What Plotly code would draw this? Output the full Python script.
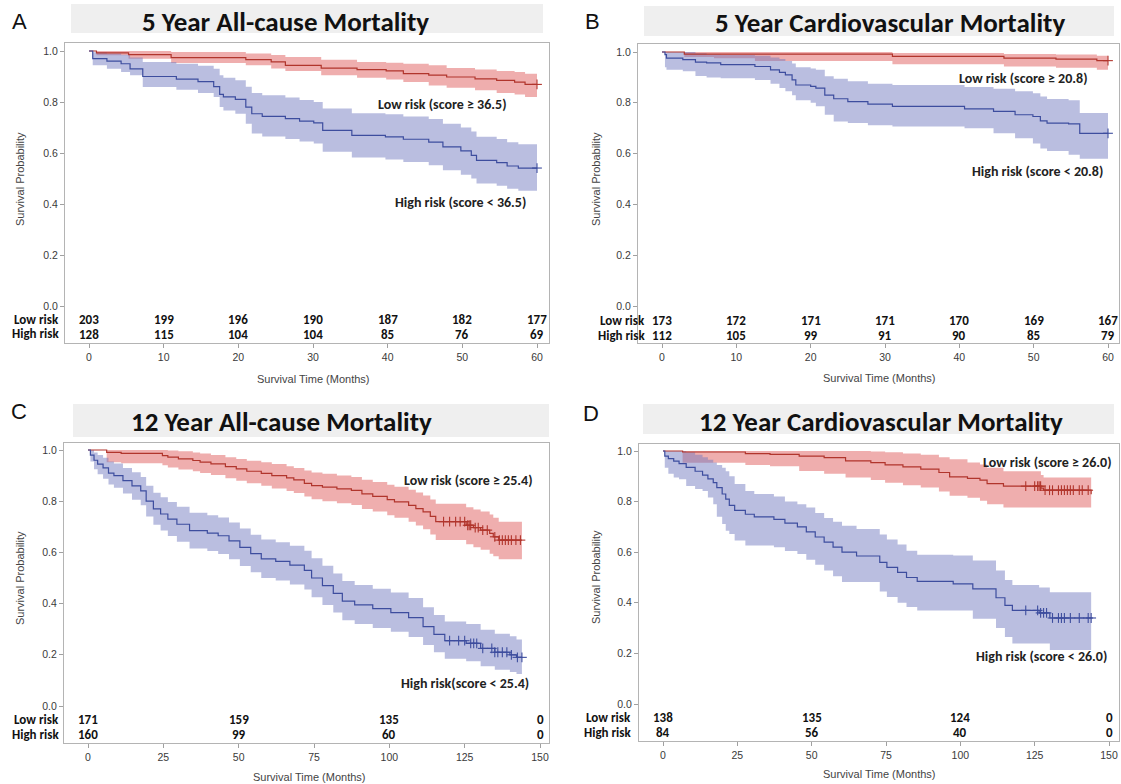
import plotly.graph_objects as go

W, H = 1121, 784

# ---------------- DATA ----------------
# Panel A: 5 Year All-cause Mortality
A_low_t  = [0, 1, 5.3, 11, 21, 24.4, 26.3, 31.1, 35.9, 39.8, 42.1, 45.5, 47.9, 51.7, 54.6, 57, 58.4]
A_low_s  = [1.0, 0.993, 0.986, 0.974, 0.966, 0.957, 0.944, 0.933, 0.927, 0.922, 0.911, 0.905, 0.898, 0.891, 0.885, 0.878, 0.869]
A_low_lo = [1.0, 0.983, 0.97, 0.953, 0.944, 0.931, 0.922, 0.905, 0.895, 0.888, 0.878, 0.865, 0.856, 0.846, 0.835, 0.829, 0.82]
A_low_hi = [1.0, 1.0, 1.0, 0.996, 0.99, 0.984, 0.976, 0.966, 0.957, 0.954, 0.95, 0.944, 0.933, 0.927, 0.922, 0.918, 0.911]
A_low_cens = [60]
A_high_t  = [0, 0.5, 2.4, 4.3, 5.5, 7.2, 11.7, 14.6, 16.7, 17.5, 18, 19.6, 21, 21.8, 23.2, 26.3, 28.2, 30.1, 31.3, 35.2, 39.7, 42.1, 45.5, 47.4, 49.8, 51.2, 51.9, 54.6, 56, 57.5]
A_high_s  = [1.0, 0.97, 0.96, 0.95, 0.93, 0.90, 0.89, 0.88, 0.86, 0.83, 0.82, 0.81, 0.78, 0.754, 0.744, 0.735, 0.725, 0.718, 0.689, 0.669, 0.663, 0.654, 0.643, 0.624, 0.608, 0.591, 0.571, 0.562, 0.549, 0.541]
A_high_hi = [1.0, 0.995, 0.99, 0.985, 0.975, 0.957, 0.95, 0.942, 0.93, 0.905, 0.895, 0.885, 0.86, 0.835, 0.826, 0.818, 0.808, 0.80, 0.775, 0.756, 0.752, 0.743, 0.733, 0.715, 0.70, 0.684, 0.664, 0.655, 0.642, 0.634]
A_high_lo = [1.0, 0.944, 0.93, 0.918, 0.905, 0.859, 0.848, 0.835, 0.82, 0.78, 0.767, 0.754, 0.715, 0.676, 0.665, 0.655, 0.645, 0.637, 0.605, 0.582, 0.575, 0.565, 0.552, 0.532, 0.515, 0.50, 0.48, 0.472, 0.46, 0.452]
A_high_cens = [60]
A_ticks = [0, 10, 20, 30, 40, 50, 60]
A_nrisk_low  = [203, 199, 196, 190, 187, 182, 177]
A_nrisk_high = [128, 115, 104, 104, 85, 76, 69]

# Panel B: 5 Year Cardiovascular Mortality
B_low_t  = [0, 3, 7, 12.5, 31, 46, 53, 58.5]
B_low_s  = [1.0, 0.992, 0.992, 0.992, 0.983, 0.976, 0.972, 0.966]
B_low_lo = [1.0, 0.98, 0.975, 0.965, 0.952, 0.943, 0.938, 0.93]
B_low_hi = [1.0, 1.0, 1.0, 1.0, 0.996, 0.992, 0.99, 0.985]
B_low_cens = [60]
B_high_t  = [0, 0.4, 0.6, 2.8, 4.5, 6, 7.9, 12.5, 14.6, 15.8, 16.6, 17.5, 18, 20, 20.7, 21.9, 23.1, 25, 27.7, 31, 40.7, 44.6, 47.5, 49.9, 50.9, 51.8, 54.7, 56.2]
B_high_s  = [1.0, 0.99, 0.976, 0.97, 0.96, 0.957, 0.95, 0.943, 0.93, 0.92, 0.91, 0.89, 0.87, 0.865, 0.858, 0.83, 0.816, 0.805, 0.795, 0.786, 0.776, 0.766, 0.753, 0.746, 0.729, 0.72, 0.717, 0.68]
B_high_hi = [1.0, 1.0, 1.0, 1.0, 0.995, 0.99, 0.988, 0.985, 0.978, 0.972, 0.965, 0.955, 0.94, 0.935, 0.93, 0.905, 0.895, 0.885, 0.875, 0.87, 0.862, 0.855, 0.845, 0.838, 0.825, 0.815, 0.81, 0.76]
B_high_lo = [1.0, 0.94, 0.93, 0.924, 0.906, 0.9, 0.897, 0.89, 0.875, 0.858, 0.845, 0.83, 0.81, 0.8, 0.786, 0.753, 0.726, 0.72, 0.712, 0.707, 0.70, 0.68, 0.66, 0.64, 0.62, 0.61, 0.595, 0.58]
B_high_cens = [60]
B_ticks = [0, 10, 20, 30, 40, 50, 60]
B_nrisk_low  = [173, 172, 171, 171, 170, 169, 167]
B_nrisk_high = [112, 105, 99, 91, 90, 85, 79]

# Panel C: 12 Year All-cause Mortality
C_low_t  = [0, 6.2, 11, 24.7, 26.5, 30, 34.8, 37.2, 40.8, 45.6, 49.2, 52.7, 57.5, 61, 65.9, 68.3, 71.8, 74.2, 77.8, 82.6, 87.4, 90.9, 94.5, 99.3, 101.7, 106.4, 108.8, 111.2, 113.6, 115.4, 125.5, 127.9, 130.3, 133.3, 134.5, 136.3]
C_low_s  = [1.0, 0.991, 0.987, 0.978, 0.972, 0.965, 0.959, 0.953, 0.946, 0.935, 0.926, 0.917, 0.909, 0.90, 0.891, 0.883, 0.87, 0.861, 0.855, 0.848, 0.842, 0.829, 0.819, 0.806, 0.797, 0.784, 0.771, 0.758, 0.741, 0.72, 0.706, 0.697, 0.687, 0.674, 0.661, 0.648]
C_low_hi = [1, 1, 1, 1, 0.998, 0.995, 0.99, 0.986, 0.98, 0.972, 0.965, 0.958, 0.952, 0.945, 0.937, 0.93, 0.92, 0.912, 0.907, 0.90, 0.895, 0.884, 0.875, 0.864, 0.856, 0.845, 0.834, 0.822, 0.807, 0.79, 0.776, 0.768, 0.76, 0.748, 0.735, 0.72]
C_low_lo = [1, 0.952, 0.948, 0.94, 0.932, 0.924, 0.917, 0.91, 0.902, 0.89, 0.88, 0.87, 0.86, 0.85, 0.84, 0.832, 0.818, 0.808, 0.80, 0.792, 0.785, 0.77, 0.76, 0.745, 0.735, 0.72, 0.705, 0.69, 0.67, 0.648, 0.632, 0.62, 0.61, 0.595, 0.585, 0.573]
C_low_cens = [118, 120, 122, 123.5, 125, 126, 126.5, 127, 128.5, 129.5, 131, 132.5, 135, 136.5, 137.5, 138.5, 139.5, 140.5, 142, 143.5]
C_high_t  = [0, 0.8, 2, 3.2, 5, 6.8, 8.6, 11.6, 14.6, 17.5, 19.3, 21.7, 24.1, 26.5, 29.5, 33.7, 39.6, 43.2, 46.8, 50.4, 54, 57.5, 62.3, 67, 71.8, 74.2, 77.8, 81.4, 84.4, 88.5, 94.5, 100.5, 106.4, 111.2, 114.8, 118.4, 125.5, 130.3, 135, 140, 142.2]
C_high_s  = [1.0, 0.98, 0.96, 0.945, 0.93, 0.91, 0.90, 0.88, 0.86, 0.84, 0.80, 0.77, 0.75, 0.73, 0.71, 0.685, 0.675, 0.665, 0.645, 0.62, 0.595, 0.575, 0.565, 0.55, 0.53, 0.50, 0.47, 0.44, 0.41, 0.395, 0.38, 0.365, 0.345, 0.31, 0.28, 0.255, 0.245, 0.225, 0.21, 0.20, 0.19]
C_high_hi = [1.0, 1.0, 0.99, 0.98, 0.97, 0.955, 0.947, 0.93, 0.913, 0.895, 0.86, 0.833, 0.815, 0.797, 0.778, 0.755, 0.745, 0.736, 0.717, 0.693, 0.669, 0.65, 0.64, 0.626, 0.606, 0.577, 0.548, 0.518, 0.488, 0.473, 0.458, 0.443, 0.422, 0.386, 0.355, 0.33, 0.32, 0.298, 0.282, 0.272, 0.26]
C_high_lo = [1.0, 0.955, 0.925, 0.905, 0.888, 0.865, 0.853, 0.83, 0.806, 0.784, 0.74, 0.708, 0.686, 0.664, 0.642, 0.615, 0.605, 0.594, 0.573, 0.547, 0.522, 0.5, 0.49, 0.475, 0.455, 0.425, 0.395, 0.365, 0.335, 0.32, 0.305, 0.29, 0.27, 0.238, 0.21, 0.185, 0.175, 0.155, 0.142, 0.133, 0.125]
C_high_cens = [120, 123, 125, 127, 128, 129, 131, 134, 135, 136, 137.5, 139, 140.5, 142.5, 144]
C_axis_ticks = [0, 25, 50, 75, 100, 125, 150]
C_nrisk_ticks = [0, 50, 100, 150]
C_nrisk_low  = [171, 159, 135, 0]
C_nrisk_high = [160, 99, 60, 0]

# Panel D: 12 Year Cardiovascular Mortality
D_low_t  = [0, 6.6, 27.7, 36, 45.8, 54.2, 61.4, 69.9, 74.7, 80.7, 86.7, 92.8, 96.4, 102.4, 106.6, 109, 114.5, 127.1, 128, 144]
D_low_s  = [1.0, 0.996, 0.99, 0.987, 0.98, 0.974, 0.961, 0.954, 0.945, 0.937, 0.928, 0.915, 0.898, 0.892, 0.885, 0.871, 0.861, 0.853, 0.845, 0.829]
D_low_hi = [1.0, 1.0, 1.0, 1.0, 1.0, 1.0, 1.0, 0.998, 0.995, 0.99, 0.985, 0.975, 0.967, 0.955, 0.947, 0.934, 0.92, 0.905, 0.895, 0.892]
D_low_lo = [1.0, 0.954, 0.945, 0.94, 0.921, 0.91, 0.895, 0.885, 0.875, 0.865, 0.856, 0.84, 0.823, 0.815, 0.803, 0.79, 0.777, 0.777, 0.777, 0.777]
D_low_cens = [122, 125, 126, 126.5, 127, 128.5, 130, 131, 133, 134, 135, 136, 137, 138, 140, 141, 143]
D_high_t  = [0, 0.6, 1.8, 3.6, 5.4, 7.8, 10.8, 13.3, 15.1, 16.9, 18.1, 19.9, 21.1, 22.3, 24.1, 27.7, 30.7, 37.3, 41, 45.2, 48.2, 51.2, 54.2, 57.2, 60.2, 65.1, 72.9, 75.3, 78.9, 81.9, 85.5, 97.6, 104.2, 112, 115, 117.5, 126.5, 130.1]
D_high_s  = [1.0, 0.98, 0.97, 0.96, 0.95, 0.935, 0.92, 0.905, 0.89, 0.875, 0.855, 0.83, 0.81, 0.785, 0.765, 0.75, 0.74, 0.73, 0.715, 0.70, 0.68, 0.66, 0.64, 0.62, 0.60, 0.585, 0.56, 0.54, 0.52, 0.50, 0.485, 0.475, 0.455, 0.42, 0.39, 0.37, 0.36, 0.34]
D_high_hi = [1.0, 1.0, 1.0, 1.0, 1.0, 0.995, 0.985, 0.975, 0.965, 0.955, 0.945, 0.934, 0.92, 0.90, 0.87, 0.842, 0.83, 0.82, 0.80, 0.79, 0.777, 0.755, 0.735, 0.72, 0.705, 0.692, 0.67, 0.65, 0.63, 0.606, 0.59, 0.587, 0.567, 0.528, 0.49, 0.47, 0.46, 0.442]
D_high_lo = [1.0, 0.934, 0.91, 0.895, 0.888, 0.862, 0.85, 0.842, 0.816, 0.79, 0.74, 0.711, 0.685, 0.672, 0.646, 0.626, 0.626, 0.62, 0.605, 0.593, 0.57, 0.55, 0.528, 0.505, 0.482, 0.482, 0.445, 0.423, 0.40, 0.383, 0.37, 0.37, 0.337, 0.30, 0.265, 0.239, 0.239, 0.213]
D_high_cens = [122, 126, 127, 128, 129, 131, 133, 134, 135, 137, 140, 143, 144]
D_axis_ticks = [0, 25, 50, 75, 100, 125, 150]
D_nrisk_ticks = [0, 50, 100, 150]
D_nrisk_low  = [138, 135, 124, 0]
D_nrisk_high = [84, 56, 40, 0]

titles = ["5 Year All-cause Mortality", "5 Year Cardiovascular Mortality",
          "12 Year All-cause Mortality", "12 Year Cardiovascular Mortality"]
letters = ["A", "B", "C", "D"]
low_labels = ["Low risk (score \u2265 36.5)", "Low risk (score \u2265 20.8)",
              "Low risk (score \u2265 25.4)", "Low risk (score \u2265 26.0)"]
high_labels = ["High risk (score < 36.5)", "High risk (score < 20.8)",
               "High risk(score < 25.4)", "High risk (score < 26.0)"]

# ---------------- STYLE / GEOMETRY ----------------
RED_LINE = "#b1352c"
BLUE_LINE = "#3d4d9e"
RED_BAND = "rgba(222,86,86,0.48)"
BLUE_BAND = "rgba(110,120,190,0.48)"
BIG_FONT = "Carlito, Lato, 'Open Sans', sans-serif"
SMALL_FONT = "'Liberation Sans', Arial, sans-serif"

panels = [
    dict(frame=(65, 549, 43, 343), x0px=89, x1px=537, xv=(0, 60), y1px=51, y0px=306, end=60,
         low=(A_low_t, A_low_s, A_low_lo, A_low_hi, A_low_cens),
         high=(A_high_t, A_high_s, A_high_lo, A_high_hi, A_high_cens),
         ticks=A_ticks, nr_ticks=A_ticks, nr_low=A_nrisk_low, nr_high=A_nrisk_high,
         nr_y=(319, 334), rlab_x=61,
         box=(71, 543, 4, 33), title_c=(285, 21), letter_c=(19, 22),
         low_c=(442, 104), high_c=(460, 203), ytitle_c=(20, 179), xtitle_c=(313, 379)),
    dict(frame=(638, 1119, 44, 343), x0px=662, x1px=1108, xv=(0, 60), y1px=52, y0px=306, end=60,
         low=(B_low_t, B_low_s, B_low_lo, B_low_hi, B_low_cens),
         high=(B_high_t, B_high_s, B_high_lo, B_high_hi, B_high_cens),
         ticks=B_ticks, nr_ticks=B_ticks, nr_low=B_nrisk_low, nr_high=B_nrisk_high,
         nr_y=(320, 335), rlab_x=647,
         box=(644, 1114, 6, 36), title_c=(890, 23), letter_c=(592, 21),
         low_c=(1023, 79), high_c=(1037, 171), ytitle_c=(596, 179), xtitle_c=(879, 378)),
    dict(frame=(64, 549, 443, 743), x0px=88, x1px=540, xv=(0, 150), y1px=450, y0px=706, end=144,
         low=(C_low_t, C_low_s, C_low_lo, C_low_hi, C_low_cens),
         high=(C_high_t, C_high_s, C_high_lo, C_high_hi, C_high_cens),
         ticks=C_axis_ticks, nr_ticks=C_nrisk_ticks, nr_low=C_nrisk_low, nr_high=C_nrisk_high,
         nr_y=(719, 734), rlab_x=61,
         box=(73, 549, 404, 437), title_c=(281, 422), letter_c=(19, 411),
         low_c=(468, 481), high_c=(465, 683), ytitle_c=(20, 578), xtitle_c=(309, 777)),
    dict(frame=(639, 1119, 444, 741), x0px=663, x1px=1109, xv=(0, 150), y1px=451, y0px=704, end=144,
         low=(D_low_t, D_low_s, D_low_lo, D_low_hi, D_low_cens),
         high=(D_high_t, D_high_s, D_high_lo, D_high_hi, D_high_cens),
         ticks=D_axis_ticks, nr_ticks=D_nrisk_ticks, nr_low=D_nrisk_low, nr_high=D_nrisk_high,
         nr_y=(717, 732), rlab_x=633,
         box=(643, 1114, 404, 434), title_c=(881, 421), letter_c=(591, 413),
         low_c=(1047, 462), high_c=(1041, 656), ytitle_c=(596, 577), xtitle_c=(879, 774)),
]


def fx(p):
    return p / W


def fy(p):
    return 1 - p / H


def step_value(t, s, x):
    v = s[0]
    for ti, si in zip(t, s):
        if ti <= x:
            v = si
    return v


def text_ann(text, cx, cy, size, family, color="#111", angle=0, xanchor="center"):
    return dict(text=text, xref="paper", yref="paper", x=fx(cx), y=fy(cy),
                xanchor=xanchor, yanchor="middle", showarrow=False, textangle=angle,
                font=dict(family=family, size=size, color=color))


fig = go.Figure()
annotations = []
shapes = []
layout_axes = {}

for i, P in enumerate(panels):
    n = "" if i == 0 else str(i + 1)
    xa, ya = "x" + n, "y" + n
    l, r, t, b = P["frame"]
    sx = (P["x1px"] - P["x0px"]) / (P["xv"][1] - P["xv"][0])
    xr = [P["xv"][0] + (l - P["x0px"]) / sx, P["xv"][0] + (r - P["x0px"]) / sx]
    sy = P["y0px"] - P["y1px"]
    yr = [(P["y0px"] - b) / sy, (P["y0px"] - t) / sy]

    for (tt, ss, lo, hi, cens), band in ((P["low"], RED_BAND), (P["high"], BLUE_BAND)):
        bx = list(tt) + [P["end"]]
        fig.add_trace(go.Scatter(x=bx, y=list(lo) + [lo[-1]], mode="lines", line_shape="hv",
                                 line=dict(width=0, color=band), xaxis=xa, yaxis=ya,
                                 showlegend=False, hoverinfo="skip"))
        fig.add_trace(go.Scatter(x=bx, y=list(hi) + [hi[-1]], mode="lines", line_shape="hv",
                                 line=dict(width=0, color=band), fill="tonexty", fillcolor=band,
                                 xaxis=xa, yaxis=ya, showlegend=False, hoverinfo="skip"))
    for (tt, ss, lo, hi, cens), line in ((P["low"], RED_LINE), (P["high"], BLUE_LINE)):
        fig.add_trace(go.Scatter(x=list(tt) + [P["end"]], y=list(ss) + [ss[-1]], mode="lines",
                                 line_shape="hv", line=dict(width=1.2, color=line),
                                 xaxis=xa, yaxis=ya, showlegend=False))
        cy = [step_value(tt, ss, c) for c in cens]
        for sym in ("line-ns", "line-ew"):
            fig.add_trace(go.Scatter(x=cens, y=cy, mode="markers",
                                     marker=dict(symbol=sym, size=7,
                                                 line=dict(width=1.1, color=line)),
                                     xaxis=xa, yaxis=ya, showlegend=False))

    common = dict(showline=True, mirror=True, linecolor="#b4b4b4", linewidth=1,
                  showgrid=False, zeroline=False, ticks="outside", ticklen=4,
                  tickcolor="#a0a0a0", tickfont=dict(family=SMALL_FONT, size=10.5, color="#3a3a3a"),
                  fixedrange=True)
    layout_axes["xaxis" + n] = dict(common, domain=[fx(l), fx(r)], range=xr, anchor=ya,
                                    tickvals=P["ticks"], ticktext=[str(v) for v in P["ticks"]])
    layout_axes["yaxis" + n] = dict(common, domain=[fy(b), fy(t)], range=yr, anchor=xa,
                                    tickvals=[0, 0.2, 0.4, 0.6, 0.8, 1.0],
                                    ticktext=["0.0", "0.2", "0.4", "0.6", "0.8", "1.0"])

    bx0, bx1, by0, by1 = P["box"]
    shapes.append(dict(type="rect", xref="paper", yref="paper", x0=fx(bx0), x1=fx(bx1),
                       y0=fy(by1), y1=fy(by0), fillcolor="#efefef", line=dict(width=0),
                       layer="below"))
    annotations.append(text_ann("<b>" + titles[i] + "</b>", *P["title_c"], 27, BIG_FONT))
    annotations.append(text_ann(letters[i], *P["letter_c"], 22, SMALL_FONT))
    annotations.append(text_ann("<b>" + low_labels[i] + "</b>", *P["low_c"], 14, BIG_FONT, "#222"))
    annotations.append(text_ann("<b>" + high_labels[i] + "</b>", *P["high_c"], 14, BIG_FONT, "#222"))
    annotations.append(text_ann("Survival Probability", *P["ytitle_c"], 11, SMALL_FONT, "#444", -90))
    annotations.append(text_ann("Survival Time (Months)", *P["xtitle_c"], 11, SMALL_FONT, "#444"))
    for lab, py in (("Low risk", P["nr_y"][0]), ("High risk", P["nr_y"][1])):
        annotations.append(text_ann("<b>" + lab + "</b>", P["rlab_x"], py, 13, BIG_FONT,
                                    xanchor="right"))
    for vals, py in ((P["nr_low"], P["nr_y"][0]), (P["nr_high"], P["nr_y"][1])):
        yv = (P["y0px"] - py) / sy
        for tv, v in zip(P["nr_ticks"], vals):
            annotations.append(dict(text="<b>" + str(v) + "</b>", xref=xa, yref=ya,
                                    x=tv, y=yv, xanchor="center", yanchor="middle",
                                    showarrow=False,
                                    font=dict(family=BIG_FONT, size=13, color="#111")))

fig.update_layout(width=W, height=H, autosize=False, margin=dict(l=0, r=0, t=0, b=0),
                  paper_bgcolor="white", plot_bgcolor="white", showlegend=False,
                  annotations=annotations, shapes=shapes, **layout_axes)

fig.write_html("out.html", config={"displayModeBar": False},
               post_script="document.body.style.margin='0px';")
